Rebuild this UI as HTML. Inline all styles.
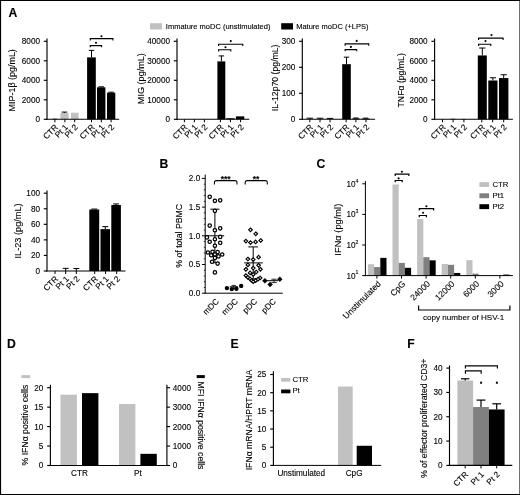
<!DOCTYPE html>
<html><head><meta charset="utf-8"><title>Figure</title>
<style>
html,body{margin:0;padding:0;background:#fff;}
body{width:520px;height:495px;overflow:hidden;}
svg{display:block;will-change:transform;opacity:0.999;font-family:'Liberation Sans', sans-serif;}
svg text{font-family:'Liberation Sans', sans-serif;fill:#000;stroke:#000;stroke-width:0.12px;}
</style></head>
<body>
<svg width="520" height="495" viewBox="0 0 520 495">
<rect x="150.00" y="23.20" width="12.00" height="6.30" fill="#c1c1c1"/>
<text x="165.80" y="29.20" font-size="7.5" text-anchor="start" font-weight="normal" >Immature moDC (unstimulated)</text>
<rect x="281.20" y="23.20" width="11.80" height="6.30" fill="#000"/>
<text x="296.20" y="29.20" font-size="7.5" text-anchor="start" font-weight="normal" >Mature moDC (+LPS)</text>
<text x="8.40" y="16.80" font-size="12.2" text-anchor="start" font-weight="bold" >A</text>
<text x="159.60" y="167.60" font-size="12.2" text-anchor="start" font-weight="bold" >B</text>
<text x="316.50" y="168.00" font-size="12.2" text-anchor="start" font-weight="bold" >C</text>
<text x="7.00" y="347.80" font-size="12.2" text-anchor="start" font-weight="bold" >D</text>
<text x="230.60" y="347.80" font-size="12.2" text-anchor="start" font-weight="bold" >E</text>
<text x="407.20" y="347.80" font-size="12.2" text-anchor="start" font-weight="bold" >F</text>
<rect x="52.60" y="118.72" width="4.60" height="0.58" fill="#000"/>
<rect x="60.40" y="112.96" width="8.20" height="6.34" fill="#c1c1c1"/>
<rect x="71.00" y="112.67" width="7.60" height="6.63" fill="#c1c1c1"/>
<rect x="87.10" y="57.39" width="8.70" height="61.91" fill="#000"/>
<rect x="97.00" y="87.32" width="8.40" height="31.98" fill="#000"/>
<rect x="107.00" y="92.68" width="8.30" height="26.62" fill="#000"/>
<line x1="64.50" y1="112.08" x2="64.50" y2="112.96" stroke="#000" stroke-width="1.0" />
<line x1="61.70" y1="112.08" x2="67.30" y2="112.08" stroke="#000" stroke-width="1.0" />
<line x1="91.50" y1="50.37" x2="91.50" y2="57.39" stroke="#000" stroke-width="1.0" />
<line x1="88.80" y1="50.37" x2="94.20" y2="50.37" stroke="#000" stroke-width="1.0" />
<line x1="101.20" y1="86.83" x2="101.20" y2="87.32" stroke="#000" stroke-width="1.0" />
<line x1="98.40" y1="86.83" x2="104.00" y2="86.83" stroke="#000" stroke-width="1.0" />
<line x1="111.10" y1="92.19" x2="111.10" y2="92.68" stroke="#000" stroke-width="1.0" />
<line x1="108.30" y1="92.19" x2="113.90" y2="92.19" stroke="#000" stroke-width="1.0" />
<line x1="47.00" y1="38.40" x2="47.00" y2="119.88" stroke="#000" stroke-width="1.15" />
<line x1="43.80" y1="119.30" x2="47.00" y2="119.30" stroke="#000" stroke-width="1.15" />
<text x="40.00" y="122.25" font-size="8.2" text-anchor="end" font-weight="normal" >0</text>
<line x1="43.80" y1="99.80" x2="47.00" y2="99.80" stroke="#000" stroke-width="1.15" />
<text x="40.00" y="102.75" font-size="8.2" text-anchor="end" font-weight="normal" >2000</text>
<line x1="43.80" y1="80.30" x2="47.00" y2="80.30" stroke="#000" stroke-width="1.15" />
<text x="40.00" y="83.25" font-size="8.2" text-anchor="end" font-weight="normal" >4000</text>
<line x1="43.80" y1="60.80" x2="47.00" y2="60.80" stroke="#000" stroke-width="1.15" />
<text x="40.00" y="63.75" font-size="8.2" text-anchor="end" font-weight="normal" >6000</text>
<line x1="43.80" y1="41.30" x2="47.00" y2="41.30" stroke="#000" stroke-width="1.15" />
<text x="40.00" y="44.25" font-size="8.2" text-anchor="end" font-weight="normal" >8000</text>
<line x1="46.50" y1="119.30" x2="119.20" y2="119.30" stroke="#000" stroke-width="1.1" />
<line x1="54.90" y1="119.30" x2="54.90" y2="122.30" stroke="#000" stroke-width="1.0" />
<line x1="64.90" y1="119.30" x2="64.90" y2="122.30" stroke="#000" stroke-width="1.0" />
<line x1="74.70" y1="119.30" x2="74.70" y2="122.30" stroke="#000" stroke-width="1.0" />
<line x1="91.50" y1="119.30" x2="91.50" y2="122.30" stroke="#000" stroke-width="1.0" />
<line x1="101.30" y1="119.30" x2="101.30" y2="122.30" stroke="#000" stroke-width="1.0" />
<line x1="111.10" y1="119.30" x2="111.10" y2="122.30" stroke="#000" stroke-width="1.0" />
<text x="58.60" y="127.80" font-size="8.3" text-anchor="end" font-weight="normal" transform="rotate(-45 58.60 127.80)" >CTR</text>
<text x="68.60" y="127.80" font-size="8.3" text-anchor="end" font-weight="normal" transform="rotate(-45 68.60 127.80)" >Pt 1</text>
<text x="78.40" y="127.80" font-size="8.3" text-anchor="end" font-weight="normal" transform="rotate(-45 78.40 127.80)" >Pt 2</text>
<text x="95.20" y="127.80" font-size="8.3" text-anchor="end" font-weight="normal" transform="rotate(-45 95.20 127.80)" >CTR</text>
<text x="105.00" y="127.80" font-size="8.3" text-anchor="end" font-weight="normal" transform="rotate(-45 105.00 127.80)" >Pt 1</text>
<text x="114.80" y="127.80" font-size="8.3" text-anchor="end" font-weight="normal" transform="rotate(-45 114.80 127.80)" >Pt 2</text>
<text x="15.20" y="80.30" font-size="8.95" text-anchor="middle" font-weight="normal" transform="rotate(-90 15.20 80.30)" >MIP-1β (pg/mL)</text>
<path d="M90.30 47.20 V45.60 H101.60 V47.20" fill="none" stroke="#000" stroke-width="1.1"/>
<circle cx="96.00" cy="42.80" r="1.05" fill="#000"/>
<path d="M90.30 40.55 V38.65 H112.90 V40.55" fill="none" stroke="#000" stroke-width="1.1"/>
<circle cx="101.50" cy="36.20" r="1.05" fill="#000"/>
<rect x="217.40" y="61.38" width="7.90" height="57.91" fill="#000"/>
<rect x="226.20" y="118.23" width="8.40" height="1.07" fill="#000"/>
<rect x="235.90" y="116.38" width="8.40" height="2.92" fill="#000"/>
<line x1="221.40" y1="55.92" x2="221.40" y2="61.38" stroke="#000" stroke-width="1.0" />
<line x1="218.70" y1="55.92" x2="224.10" y2="55.92" stroke="#000" stroke-width="1.0" />
<line x1="177.00" y1="38.40" x2="177.00" y2="119.88" stroke="#000" stroke-width="1.15" />
<line x1="173.80" y1="119.30" x2="177.00" y2="119.30" stroke="#000" stroke-width="1.15" />
<text x="170.00" y="122.25" font-size="8.2" text-anchor="end" font-weight="normal" >0</text>
<line x1="173.80" y1="99.80" x2="177.00" y2="99.80" stroke="#000" stroke-width="1.15" />
<text x="170.00" y="102.75" font-size="8.2" text-anchor="end" font-weight="normal" >10000</text>
<line x1="173.80" y1="80.30" x2="177.00" y2="80.30" stroke="#000" stroke-width="1.15" />
<text x="170.00" y="83.25" font-size="8.2" text-anchor="end" font-weight="normal" >20000</text>
<line x1="173.80" y1="60.80" x2="177.00" y2="60.80" stroke="#000" stroke-width="1.15" />
<text x="170.00" y="63.75" font-size="8.2" text-anchor="end" font-weight="normal" >30000</text>
<line x1="173.80" y1="41.30" x2="177.00" y2="41.30" stroke="#000" stroke-width="1.15" />
<text x="170.00" y="44.25" font-size="8.2" text-anchor="end" font-weight="normal" >40000</text>
<line x1="176.50" y1="119.30" x2="249.30" y2="119.30" stroke="#000" stroke-width="1.1" />
<line x1="184.40" y1="119.30" x2="184.40" y2="122.30" stroke="#000" stroke-width="1.0" />
<line x1="194.40" y1="119.30" x2="194.40" y2="122.30" stroke="#000" stroke-width="1.0" />
<line x1="204.40" y1="119.30" x2="204.40" y2="122.30" stroke="#000" stroke-width="1.0" />
<line x1="220.40" y1="119.30" x2="220.40" y2="122.30" stroke="#000" stroke-width="1.0" />
<line x1="230.40" y1="119.30" x2="230.40" y2="122.30" stroke="#000" stroke-width="1.0" />
<line x1="240.60" y1="119.30" x2="240.60" y2="122.30" stroke="#000" stroke-width="1.0" />
<text x="188.10" y="127.80" font-size="8.3" text-anchor="end" font-weight="normal" transform="rotate(-45 188.10 127.80)" >CTR</text>
<text x="198.10" y="127.80" font-size="8.3" text-anchor="end" font-weight="normal" transform="rotate(-45 198.10 127.80)" >Pt 1</text>
<text x="208.10" y="127.80" font-size="8.3" text-anchor="end" font-weight="normal" transform="rotate(-45 208.10 127.80)" >Pt 2</text>
<text x="224.10" y="127.80" font-size="8.3" text-anchor="end" font-weight="normal" transform="rotate(-45 224.10 127.80)" >CTR</text>
<text x="234.10" y="127.80" font-size="8.3" text-anchor="end" font-weight="normal" transform="rotate(-45 234.10 127.80)" >Pt 1</text>
<text x="244.30" y="127.80" font-size="8.3" text-anchor="end" font-weight="normal" transform="rotate(-45 244.30 127.80)" >Pt 2</text>
<text x="144.50" y="78.60" font-size="9.1" text-anchor="middle" font-weight="normal" transform="rotate(-90 144.50 78.60)" >MIG (pg/mL)</text>
<path d="M218.60 51.40 V49.80 H230.80 V51.40" fill="none" stroke="#000" stroke-width="1.1"/>
<circle cx="225.50" cy="47.30" r="1.05" fill="#000"/>
<path d="M218.60 46.10 V44.20 H242.80 V46.10" fill="none" stroke="#000" stroke-width="1.1"/>
<circle cx="230.80" cy="41.10" r="1.05" fill="#000"/>
<rect x="342.20" y="64.18" width="8.60" height="55.12" fill="#000"/>
<rect x="352.30" y="118.39" width="7.10" height="0.91" fill="#000"/>
<rect x="361.80" y="118.52" width="7.80" height="0.78" fill="#000"/>
<line x1="346.50" y1="57.16" x2="346.50" y2="64.18" stroke="#000" stroke-width="1.0" />
<line x1="343.80" y1="57.16" x2="349.20" y2="57.16" stroke="#000" stroke-width="1.0" />
<line x1="309.80" y1="118.21" x2="309.80" y2="119.30" stroke="#000" stroke-width="1.0" />
<line x1="306.55" y1="118.21" x2="313.05" y2="118.21" stroke="#000" stroke-width="1.0" />
<line x1="320.00" y1="118.21" x2="320.00" y2="119.30" stroke="#000" stroke-width="1.0" />
<line x1="316.75" y1="118.21" x2="323.25" y2="118.21" stroke="#000" stroke-width="1.0" />
<line x1="330.00" y1="118.42" x2="330.00" y2="119.30" stroke="#000" stroke-width="1.0" />
<line x1="326.75" y1="118.42" x2="333.25" y2="118.42" stroke="#000" stroke-width="1.0" />
<line x1="355.90" y1="118.00" x2="355.90" y2="118.39" stroke="#000" stroke-width="1.0" />
<line x1="353.40" y1="118.00" x2="358.40" y2="118.00" stroke="#000" stroke-width="1.0" />
<line x1="365.70" y1="118.13" x2="365.70" y2="118.52" stroke="#000" stroke-width="1.0" />
<line x1="363.20" y1="118.13" x2="368.20" y2="118.13" stroke="#000" stroke-width="1.0" />
<line x1="302.30" y1="38.40" x2="302.30" y2="119.88" stroke="#000" stroke-width="1.15" />
<line x1="299.10" y1="119.30" x2="302.30" y2="119.30" stroke="#000" stroke-width="1.15" />
<text x="295.30" y="122.25" font-size="8.2" text-anchor="end" font-weight="normal" >0</text>
<line x1="299.10" y1="93.30" x2="302.30" y2="93.30" stroke="#000" stroke-width="1.15" />
<text x="295.30" y="96.25" font-size="8.2" text-anchor="end" font-weight="normal" >100</text>
<line x1="299.10" y1="67.30" x2="302.30" y2="67.30" stroke="#000" stroke-width="1.15" />
<text x="295.30" y="70.25" font-size="8.2" text-anchor="end" font-weight="normal" >200</text>
<line x1="299.10" y1="41.30" x2="302.30" y2="41.30" stroke="#000" stroke-width="1.15" />
<text x="295.30" y="44.25" font-size="8.2" text-anchor="end" font-weight="normal" >300</text>
<line x1="301.80" y1="119.30" x2="375.10" y2="119.30" stroke="#000" stroke-width="1.1" />
<line x1="309.80" y1="119.30" x2="309.80" y2="122.30" stroke="#000" stroke-width="1.0" />
<line x1="320.00" y1="119.30" x2="320.00" y2="122.30" stroke="#000" stroke-width="1.0" />
<line x1="330.00" y1="119.30" x2="330.00" y2="122.30" stroke="#000" stroke-width="1.0" />
<line x1="346.10" y1="119.30" x2="346.10" y2="122.30" stroke="#000" stroke-width="1.0" />
<line x1="355.90" y1="119.30" x2="355.90" y2="122.30" stroke="#000" stroke-width="1.0" />
<line x1="366.00" y1="119.30" x2="366.00" y2="122.30" stroke="#000" stroke-width="1.0" />
<text x="313.50" y="127.80" font-size="8.3" text-anchor="end" font-weight="normal" transform="rotate(-45 313.50 127.80)" >CTR</text>
<text x="323.70" y="127.80" font-size="8.3" text-anchor="end" font-weight="normal" transform="rotate(-45 323.70 127.80)" >Pt 1</text>
<text x="333.70" y="127.80" font-size="8.3" text-anchor="end" font-weight="normal" transform="rotate(-45 333.70 127.80)" >Pt 2</text>
<text x="349.80" y="127.80" font-size="8.3" text-anchor="end" font-weight="normal" transform="rotate(-45 349.80 127.80)" >CTR</text>
<text x="359.60" y="127.80" font-size="8.3" text-anchor="end" font-weight="normal" transform="rotate(-45 359.60 127.80)" >Pt 1</text>
<text x="369.70" y="127.80" font-size="8.3" text-anchor="end" font-weight="normal" transform="rotate(-45 369.70 127.80)" >Pt 2</text>
<text x="277.80" y="77.80" font-size="8.7" text-anchor="middle" font-weight="normal" transform="rotate(-90 277.80 77.80)" >IL-12p70 (pg/mL)</text>
<path d="M345.10 51.20 V49.60 H356.70 V51.20" fill="none" stroke="#000" stroke-width="1.1"/>
<circle cx="350.90" cy="46.90" r="1.05" fill="#000"/>
<path d="M345.10 45.80 V43.90 H368.70 V45.80" fill="none" stroke="#000" stroke-width="1.1"/>
<circle cx="356.70" cy="40.90" r="1.05" fill="#000"/>
<rect x="450.50" y="118.81" width="5.00" height="0.49" fill="#000"/>
<rect x="461.50" y="118.96" width="4.50" height="0.34" fill="#000"/>
<rect x="477.80" y="55.44" width="9.00" height="63.86" fill="#000"/>
<rect x="488.30" y="80.50" width="9.20" height="38.80" fill="#000"/>
<rect x="499.00" y="78.06" width="9.40" height="41.24" fill="#000"/>
<line x1="482.30" y1="48.03" x2="482.30" y2="55.44" stroke="#000" stroke-width="1.0" />
<line x1="479.20" y1="48.03" x2="485.40" y2="48.03" stroke="#000" stroke-width="1.0" />
<line x1="492.90" y1="77.77" x2="492.90" y2="80.50" stroke="#000" stroke-width="1.0" />
<line x1="489.80" y1="77.77" x2="496.00" y2="77.77" stroke="#000" stroke-width="1.0" />
<line x1="503.70" y1="74.74" x2="503.70" y2="78.06" stroke="#000" stroke-width="1.0" />
<line x1="500.60" y1="74.74" x2="506.80" y2="74.74" stroke="#000" stroke-width="1.0" />
<line x1="434.60" y1="38.40" x2="434.60" y2="119.88" stroke="#000" stroke-width="1.15" />
<line x1="431.40" y1="119.30" x2="434.60" y2="119.30" stroke="#000" stroke-width="1.15" />
<text x="427.60" y="122.25" font-size="8.2" text-anchor="end" font-weight="normal" >0</text>
<line x1="431.40" y1="99.80" x2="434.60" y2="99.80" stroke="#000" stroke-width="1.15" />
<text x="427.60" y="102.75" font-size="8.2" text-anchor="end" font-weight="normal" >2000</text>
<line x1="431.40" y1="80.30" x2="434.60" y2="80.30" stroke="#000" stroke-width="1.15" />
<text x="427.60" y="83.25" font-size="8.2" text-anchor="end" font-weight="normal" >4000</text>
<line x1="431.40" y1="60.80" x2="434.60" y2="60.80" stroke="#000" stroke-width="1.15" />
<text x="427.60" y="63.75" font-size="8.2" text-anchor="end" font-weight="normal" >6000</text>
<line x1="431.40" y1="41.30" x2="434.60" y2="41.30" stroke="#000" stroke-width="1.15" />
<text x="427.60" y="44.25" font-size="8.2" text-anchor="end" font-weight="normal" >8000</text>
<line x1="434.10" y1="119.30" x2="512.90" y2="119.30" stroke="#000" stroke-width="1.1" />
<line x1="442.50" y1="119.30" x2="442.50" y2="122.30" stroke="#000" stroke-width="1.0" />
<line x1="453.10" y1="119.30" x2="453.10" y2="122.30" stroke="#000" stroke-width="1.0" />
<line x1="463.90" y1="119.30" x2="463.90" y2="122.30" stroke="#000" stroke-width="1.0" />
<line x1="481.80" y1="119.30" x2="481.80" y2="122.30" stroke="#000" stroke-width="1.0" />
<line x1="492.70" y1="119.30" x2="492.70" y2="122.30" stroke="#000" stroke-width="1.0" />
<line x1="503.70" y1="119.30" x2="503.70" y2="122.30" stroke="#000" stroke-width="1.0" />
<text x="446.20" y="127.80" font-size="8.3" text-anchor="end" font-weight="normal" transform="rotate(-45 446.20 127.80)" >CTR</text>
<text x="456.80" y="127.80" font-size="8.3" text-anchor="end" font-weight="normal" transform="rotate(-45 456.80 127.80)" >Pt 1</text>
<text x="467.60" y="127.80" font-size="8.3" text-anchor="end" font-weight="normal" transform="rotate(-45 467.60 127.80)" >Pt 2</text>
<text x="485.50" y="127.80" font-size="8.3" text-anchor="end" font-weight="normal" transform="rotate(-45 485.50 127.80)" >CTR</text>
<text x="496.40" y="127.80" font-size="8.3" text-anchor="end" font-weight="normal" transform="rotate(-45 496.40 127.80)" >Pt 1</text>
<text x="507.40" y="127.80" font-size="8.3" text-anchor="end" font-weight="normal" transform="rotate(-45 507.40 127.80)" >Pt 2</text>
<text x="404.00" y="80.30" font-size="8.7" text-anchor="middle" font-weight="normal" transform="rotate(-90 404.00 80.30)" >TNFα (pg/mL)</text>
<path d="M478.60 45.90 V44.30 H490.80 V45.90" fill="none" stroke="#000" stroke-width="1.1"/>
<circle cx="485.50" cy="41.10" r="1.05" fill="#000"/>
<path d="M478.60 40.00 V38.10 H503.10 V40.00" fill="none" stroke="#000" stroke-width="1.1"/>
<circle cx="491.50" cy="35.10" r="1.05" fill="#000"/>
<rect x="89.30" y="209.54" width="9.90" height="61.46" fill="#000"/>
<rect x="100.50" y="229.14" width="9.50" height="41.86" fill="#000"/>
<rect x="111.30" y="205.03" width="9.60" height="65.97" fill="#000"/>
<line x1="65.70" y1="268.35" x2="65.70" y2="271.00" stroke="#000" stroke-width="1.0" />
<line x1="62.70" y1="268.35" x2="68.70" y2="268.35" stroke="#000" stroke-width="1.0" />
<line x1="76.30" y1="268.51" x2="76.30" y2="271.00" stroke="#000" stroke-width="1.0" />
<line x1="73.30" y1="268.51" x2="79.30" y2="268.51" stroke="#000" stroke-width="1.0" />
<line x1="94.30" y1="209.07" x2="94.30" y2="209.54" stroke="#000" stroke-width="1.0" />
<line x1="91.30" y1="209.07" x2="97.30" y2="209.07" stroke="#000" stroke-width="1.0" />
<line x1="105.30" y1="226.65" x2="105.30" y2="229.14" stroke="#000" stroke-width="1.0" />
<line x1="102.30" y1="226.65" x2="108.30" y2="226.65" stroke="#000" stroke-width="1.0" />
<line x1="116.10" y1="203.94" x2="116.10" y2="205.03" stroke="#000" stroke-width="1.0" />
<line x1="113.10" y1="203.94" x2="119.10" y2="203.94" stroke="#000" stroke-width="1.0" />
<line x1="47.00" y1="190.50" x2="47.00" y2="271.57" stroke="#000" stroke-width="1.15" />
<line x1="43.80" y1="271.00" x2="47.00" y2="271.00" stroke="#000" stroke-width="1.15" />
<text x="40.00" y="273.95" font-size="8.2" text-anchor="end" font-weight="normal" >0</text>
<line x1="43.80" y1="255.44" x2="47.00" y2="255.44" stroke="#000" stroke-width="1.15" />
<text x="40.00" y="258.39" font-size="8.2" text-anchor="end" font-weight="normal" >20</text>
<line x1="43.80" y1="239.88" x2="47.00" y2="239.88" stroke="#000" stroke-width="1.15" />
<text x="40.00" y="242.83" font-size="8.2" text-anchor="end" font-weight="normal" >40</text>
<line x1="43.80" y1="224.32" x2="47.00" y2="224.32" stroke="#000" stroke-width="1.15" />
<text x="40.00" y="227.27" font-size="8.2" text-anchor="end" font-weight="normal" >60</text>
<line x1="43.80" y1="208.76" x2="47.00" y2="208.76" stroke="#000" stroke-width="1.15" />
<text x="40.00" y="211.71" font-size="8.2" text-anchor="end" font-weight="normal" >80</text>
<line x1="43.80" y1="193.20" x2="47.00" y2="193.20" stroke="#000" stroke-width="1.15" />
<text x="40.00" y="196.15" font-size="8.2" text-anchor="end" font-weight="normal" >100</text>
<line x1="46.50" y1="271.00" x2="125.50" y2="271.00" stroke="#000" stroke-width="1.1" />
<line x1="55.00" y1="271.00" x2="55.00" y2="274.00" stroke="#000" stroke-width="1.0" />
<line x1="65.70" y1="271.00" x2="65.70" y2="274.00" stroke="#000" stroke-width="1.0" />
<line x1="76.30" y1="271.00" x2="76.30" y2="274.00" stroke="#000" stroke-width="1.0" />
<line x1="94.70" y1="271.00" x2="94.70" y2="274.00" stroke="#000" stroke-width="1.0" />
<line x1="105.60" y1="271.00" x2="105.60" y2="274.00" stroke="#000" stroke-width="1.0" />
<line x1="116.70" y1="271.00" x2="116.70" y2="274.00" stroke="#000" stroke-width="1.0" />
<text x="58.70" y="279.50" font-size="8.3" text-anchor="end" font-weight="normal" transform="rotate(-45 58.70 279.50)" >CTR</text>
<text x="69.40" y="279.50" font-size="8.3" text-anchor="end" font-weight="normal" transform="rotate(-45 69.40 279.50)" >Pt 1</text>
<text x="80.00" y="279.50" font-size="8.3" text-anchor="end" font-weight="normal" transform="rotate(-45 80.00 279.50)" >Pt 2</text>
<text x="98.40" y="279.50" font-size="8.3" text-anchor="end" font-weight="normal" transform="rotate(-45 98.40 279.50)" >CTR</text>
<text x="109.30" y="279.50" font-size="8.3" text-anchor="end" font-weight="normal" transform="rotate(-45 109.30 279.50)" >Pt 1</text>
<text x="120.40" y="279.50" font-size="8.3" text-anchor="end" font-weight="normal" transform="rotate(-45 120.40 279.50)" >Pt 2</text>
<text x="21.30" y="230.90" font-size="9.2" text-anchor="middle" font-weight="normal" transform="rotate(-90 21.30 230.90)" >IL-23 (pg/mL)</text>
<line x1="205.20" y1="174.50" x2="205.20" y2="293.70" stroke="#000" stroke-width="1.0" />
<line x1="202.00" y1="293.20" x2="205.20" y2="293.20" stroke="#000" stroke-width="1.0" />
<text x="200.20" y="296.15" font-size="8.2" text-anchor="end" font-weight="normal" >0.0</text>
<line x1="203.80" y1="287.46" x2="205.20" y2="287.46" stroke="#000" stroke-width="0.8" />
<line x1="203.80" y1="281.72" x2="205.20" y2="281.72" stroke="#000" stroke-width="0.8" />
<line x1="203.80" y1="275.98" x2="205.20" y2="275.98" stroke="#000" stroke-width="0.8" />
<line x1="203.80" y1="270.24" x2="205.20" y2="270.24" stroke="#000" stroke-width="0.8" />
<line x1="202.00" y1="264.50" x2="205.20" y2="264.50" stroke="#000" stroke-width="1.0" />
<text x="200.20" y="267.45" font-size="8.2" text-anchor="end" font-weight="normal" >0.5</text>
<line x1="203.80" y1="258.76" x2="205.20" y2="258.76" stroke="#000" stroke-width="0.8" />
<line x1="203.80" y1="253.02" x2="205.20" y2="253.02" stroke="#000" stroke-width="0.8" />
<line x1="203.80" y1="247.28" x2="205.20" y2="247.28" stroke="#000" stroke-width="0.8" />
<line x1="203.80" y1="241.54" x2="205.20" y2="241.54" stroke="#000" stroke-width="0.8" />
<line x1="202.00" y1="235.80" x2="205.20" y2="235.80" stroke="#000" stroke-width="1.0" />
<text x="200.20" y="238.75" font-size="8.2" text-anchor="end" font-weight="normal" >1.0</text>
<line x1="203.80" y1="230.06" x2="205.20" y2="230.06" stroke="#000" stroke-width="0.8" />
<line x1="203.80" y1="224.32" x2="205.20" y2="224.32" stroke="#000" stroke-width="0.8" />
<line x1="203.80" y1="218.58" x2="205.20" y2="218.58" stroke="#000" stroke-width="0.8" />
<line x1="203.80" y1="212.84" x2="205.20" y2="212.84" stroke="#000" stroke-width="0.8" />
<line x1="202.00" y1="207.10" x2="205.20" y2="207.10" stroke="#000" stroke-width="1.0" />
<text x="200.20" y="210.05" font-size="8.2" text-anchor="end" font-weight="normal" >1.5</text>
<line x1="203.80" y1="201.36" x2="205.20" y2="201.36" stroke="#000" stroke-width="0.8" />
<line x1="203.80" y1="195.62" x2="205.20" y2="195.62" stroke="#000" stroke-width="0.8" />
<line x1="203.80" y1="189.88" x2="205.20" y2="189.88" stroke="#000" stroke-width="0.8" />
<line x1="203.80" y1="184.14" x2="205.20" y2="184.14" stroke="#000" stroke-width="0.8" />
<line x1="202.00" y1="178.40" x2="205.20" y2="178.40" stroke="#000" stroke-width="1.0" />
<text x="200.20" y="181.35" font-size="8.2" text-anchor="end" font-weight="normal" >2.0</text>
<line x1="204.70" y1="293.20" x2="282.80" y2="293.20" stroke="#000" stroke-width="1.0" />
<text x="181.70" y="235.80" font-size="8.7" text-anchor="middle" font-weight="normal" transform="rotate(-90 181.70 235.80)" >% of total PBMC</text>
<text x="219.60" y="302.00" font-size="8.3" text-anchor="end" font-weight="normal" transform="rotate(-45 219.60 302.00)" >mDC</text>
<text x="238.40" y="302.00" font-size="8.3" text-anchor="end" font-weight="normal" transform="rotate(-45 238.40 302.00)" >mDC</text>
<text x="257.80" y="302.00" font-size="8.3" text-anchor="end" font-weight="normal" transform="rotate(-45 257.80 302.00)" >pDC</text>
<text x="276.40" y="302.00" font-size="8.3" text-anchor="end" font-weight="normal" transform="rotate(-45 276.40 302.00)" >pDC</text>
<line x1="214.90" y1="209.20" x2="214.90" y2="262.70" stroke="#000" stroke-width="1.0" />
<line x1="210.30" y1="209.20" x2="219.50" y2="209.20" stroke="#000" stroke-width="1.0" />
<line x1="210.30" y1="262.70" x2="219.50" y2="262.70" stroke="#000" stroke-width="1.0" />
<line x1="205.50" y1="235.80" x2="224.20" y2="235.80" stroke="#000" stroke-width="1.0" />
<circle cx="209.7" cy="196.8" r="1.7" fill="#fff" stroke="#000" stroke-width="1.25"/>
<circle cx="214.9" cy="200.8" r="1.7" fill="#fff" stroke="#000" stroke-width="1.25"/>
<circle cx="220.2" cy="200.3" r="1.7" fill="#fff" stroke="#000" stroke-width="1.25"/>
<circle cx="214.9" cy="210.8" r="1.7" fill="#fff" stroke="#000" stroke-width="1.25"/>
<circle cx="209.7" cy="225.6" r="1.7" fill="#fff" stroke="#000" stroke-width="1.25"/>
<circle cx="220.2" cy="228.3" r="1.7" fill="#fff" stroke="#000" stroke-width="1.25"/>
<circle cx="214.9" cy="230.2" r="1.7" fill="#fff" stroke="#000" stroke-width="1.25"/>
<circle cx="206.9" cy="237.4" r="1.7" fill="#fff" stroke="#000" stroke-width="1.25"/>
<circle cx="220.2" cy="236.9" r="1.7" fill="#fff" stroke="#000" stroke-width="1.25"/>
<circle cx="214.9" cy="239.2" r="1.7" fill="#fff" stroke="#000" stroke-width="1.25"/>
<circle cx="209.7" cy="241.7" r="1.7" fill="#fff" stroke="#000" stroke-width="1.25"/>
<circle cx="220.2" cy="242.8" r="1.7" fill="#fff" stroke="#000" stroke-width="1.25"/>
<circle cx="214.9" cy="245.7" r="1.7" fill="#fff" stroke="#000" stroke-width="1.25"/>
<circle cx="207.9" cy="252.5" r="1.7" fill="#fff" stroke="#000" stroke-width="1.25"/>
<circle cx="212.5" cy="251.8" r="1.7" fill="#fff" stroke="#000" stroke-width="1.25"/>
<circle cx="217.6" cy="252.1" r="1.7" fill="#fff" stroke="#000" stroke-width="1.25"/>
<circle cx="222.2" cy="254.5" r="1.7" fill="#fff" stroke="#000" stroke-width="1.25"/>
<circle cx="211.2" cy="255.2" r="1.7" fill="#fff" stroke="#000" stroke-width="1.25"/>
<circle cx="214.9" cy="254.5" r="1.7" fill="#fff" stroke="#000" stroke-width="1.25"/>
<circle cx="218.5" cy="256.4" r="1.7" fill="#fff" stroke="#000" stroke-width="1.25"/>
<circle cx="214.9" cy="257.9" r="1.7" fill="#fff" stroke="#000" stroke-width="1.25"/>
<circle cx="212.1" cy="261.8" r="1.7" fill="#fff" stroke="#000" stroke-width="1.25"/>
<circle cx="217.6" cy="263.6" r="1.7" fill="#fff" stroke="#000" stroke-width="1.25"/>
<circle cx="214.9" cy="272.4" r="1.7" fill="#fff" stroke="#000" stroke-width="1.25"/>
<line x1="229.70" y1="286.80" x2="237.80" y2="286.80" stroke="#000" stroke-width="1.0" />
<line x1="231.50" y1="285.40" x2="236.00" y2="285.40" stroke="#000" stroke-width="0.8" />
<line x1="231.50" y1="288.40" x2="236.00" y2="288.40" stroke="#000" stroke-width="0.8" />
<line x1="233.80" y1="285.40" x2="233.80" y2="288.40" stroke="#000" stroke-width="0.8" />
<circle cx="226.9" cy="288.1" r="2.2" fill="#000"/>
<circle cx="231.8" cy="289.1" r="2.2" fill="#000"/>
<circle cx="236.4" cy="288.8" r="2.2" fill="#000"/>
<circle cx="241.2" cy="285.9" r="2.2" fill="#000"/>
<line x1="253.20" y1="246.90" x2="253.20" y2="278.80" stroke="#000" stroke-width="1.0" />
<line x1="248.30" y1="246.90" x2="258.10" y2="246.90" stroke="#000" stroke-width="1.0" />
<line x1="248.30" y1="278.80" x2="258.10" y2="278.80" stroke="#000" stroke-width="1.0" />
<line x1="244.10" y1="262.90" x2="262.80" y2="262.90" stroke="#000" stroke-width="1.0" />
<path d="M250.50 228.00 L252.30 229.80 L250.50 231.60 L248.70 229.80 Z" fill="#fff" stroke="#000" stroke-width="1.15"/>
<path d="M255.80 232.00 L257.60 233.80 L255.80 235.60 L254.00 233.80 Z" fill="#fff" stroke="#000" stroke-width="1.15"/>
<path d="M245.90 239.30 L247.70 241.10 L245.90 242.90 L244.10 241.10 Z" fill="#fff" stroke="#000" stroke-width="1.15"/>
<path d="M250.50 240.80 L252.30 242.60 L250.50 244.40 L248.70 242.60 Z" fill="#fff" stroke="#000" stroke-width="1.15"/>
<path d="M255.60 240.10 L257.40 241.90 L255.60 243.70 L253.80 241.90 Z" fill="#fff" stroke="#000" stroke-width="1.15"/>
<path d="M260.70 238.70 L262.50 240.50 L260.70 242.30 L258.90 240.50 Z" fill="#fff" stroke="#000" stroke-width="1.15"/>
<path d="M258.60 255.40 L260.40 257.20 L258.60 259.00 L256.80 257.20 Z" fill="#fff" stroke="#000" stroke-width="1.15"/>
<path d="M247.90 257.20 L249.70 259.00 L247.90 260.80 L246.10 259.00 Z" fill="#fff" stroke="#000" stroke-width="1.15"/>
<path d="M253.20 257.80 L255.00 259.60 L253.20 261.40 L251.40 259.60 Z" fill="#fff" stroke="#000" stroke-width="1.15"/>
<path d="M247.90 263.10 L249.70 264.90 L247.90 266.70 L246.10 264.90 Z" fill="#fff" stroke="#000" stroke-width="1.15"/>
<path d="M258.60 263.50 L260.40 265.30 L258.60 267.10 L256.80 265.30 Z" fill="#fff" stroke="#000" stroke-width="1.15"/>
<path d="M253.20 266.30 L255.00 268.10 L253.20 269.90 L251.40 268.10 Z" fill="#fff" stroke="#000" stroke-width="1.15"/>
<path d="M245.90 267.50 L247.70 269.30 L245.90 271.10 L244.10 269.30 Z" fill="#fff" stroke="#000" stroke-width="1.15"/>
<path d="M260.40 267.50 L262.20 269.30 L260.40 271.10 L258.60 269.30 Z" fill="#fff" stroke="#000" stroke-width="1.15"/>
<path d="M250.10 271.10 L251.90 272.90 L250.10 274.70 L248.30 272.90 Z" fill="#fff" stroke="#000" stroke-width="1.15"/>
<path d="M256.20 270.20 L258.00 272.00 L256.20 273.80 L254.40 272.00 Z" fill="#fff" stroke="#000" stroke-width="1.15"/>
<path d="M253.20 272.60 L255.00 274.40 L253.20 276.20 L251.40 274.40 Z" fill="#fff" stroke="#000" stroke-width="1.15"/>
<path d="M245.90 273.80 L247.70 275.60 L245.90 277.40 L244.10 275.60 Z" fill="#fff" stroke="#000" stroke-width="1.15"/>
<path d="M247.90 275.60 L249.70 277.40 L247.90 279.20 L246.10 277.40 Z" fill="#fff" stroke="#000" stroke-width="1.15"/>
<path d="M260.10 276.20 L261.90 278.00 L260.10 279.80 L258.30 278.00 Z" fill="#fff" stroke="#000" stroke-width="1.15"/>
<path d="M250.10 277.10 L251.90 278.90 L250.10 280.70 L248.30 278.90 Z" fill="#fff" stroke="#000" stroke-width="1.15"/>
<path d="M258.00 277.40 L259.80 279.20 L258.00 281.00 L256.20 279.20 Z" fill="#fff" stroke="#000" stroke-width="1.15"/>
<path d="M251.60 278.70 L253.40 280.50 L251.60 282.30 L249.80 280.50 Z" fill="#fff" stroke="#000" stroke-width="1.15"/>
<path d="M255.60 278.90 L257.40 280.70 L255.60 282.50 L253.80 280.70 Z" fill="#fff" stroke="#000" stroke-width="1.15"/>
<path d="M253.20 279.90 L255.00 281.70 L253.20 283.50 L251.40 281.70 Z" fill="#fff" stroke="#000" stroke-width="1.15"/>
<line x1="266.50" y1="280.70" x2="278.00" y2="280.70" stroke="#000" stroke-width="1.0" />
<line x1="271.30" y1="279.20" x2="276.80" y2="279.20" stroke="#000" stroke-width="0.8" />
<line x1="271.30" y1="282.60" x2="276.80" y2="282.60" stroke="#000" stroke-width="0.8" />
<line x1="274.00" y1="279.20" x2="274.00" y2="282.60" stroke="#000" stroke-width="0.8" />
<path d="M264.90 278.00 L267.60 280.70 L264.90 283.40 L262.20 280.70 Z" fill="#000"/>
<path d="M270.10 281.80 L272.80 284.50 L270.10 287.20 L267.40 284.50 Z" fill="#000"/>
<path d="M279.80 276.50 L282.50 279.20 L279.80 281.90 L277.10 279.20 Z" fill="#000"/>
<path d="M214.40 184.60 V182.60 Q214.40 180.60 216.40 180.60 H235.00 Q237.00 180.60 237.00 182.60 V184.60" fill="none" stroke="#000" stroke-width="1.05"/>
<path d="M245.20 184.60 V182.60 Q245.20 180.60 247.20 180.60 H265.30 Q267.30 180.60 267.30 182.60 V184.60" fill="none" stroke="#000" stroke-width="1.05"/>
<text x="225.60" y="181.60" font-size="8.5" text-anchor="middle" font-weight="bold" >***</text>
<text x="256.10" y="181.60" font-size="8.5" text-anchor="middle" font-weight="bold" >**</text>
<rect x="367.90" y="264.19" width="6.20" height="11.41" fill="#c1c1c1"/>
<rect x="374.10" y="267.07" width="6.20" height="8.53" fill="#808080"/>
<rect x="380.30" y="257.86" width="6.20" height="17.74" fill="#000"/>
<rect x="392.50" y="184.48" width="6.20" height="91.12" fill="#c1c1c1"/>
<rect x="398.70" y="262.90" width="6.20" height="12.70" fill="#808080"/>
<rect x="404.90" y="267.79" width="6.20" height="7.81" fill="#000"/>
<rect x="417.10" y="219.14" width="6.20" height="56.46" fill="#c1c1c1"/>
<rect x="423.30" y="257.18" width="6.20" height="18.42" fill="#808080"/>
<rect x="429.50" y="260.35" width="6.20" height="15.25" fill="#000"/>
<rect x="441.70" y="263.97" width="6.20" height="11.63" fill="#c1c1c1"/>
<rect x="447.90" y="264.82" width="6.20" height="10.78" fill="#808080"/>
<rect x="454.10" y="272.96" width="6.20" height="2.64" fill="#000"/>
<rect x="466.30" y="260.14" width="6.20" height="15.46" fill="#c1c1c1"/>
<rect x="472.50" y="273.63" width="6.20" height="1.97" fill="#808080"/>
<rect x="503.30" y="274.58" width="6.20" height="1.02" fill="#000"/>
<line x1="365.40" y1="181.00" x2="365.40" y2="276.10" stroke="#000" stroke-width="1.0" />
<line x1="362.20" y1="275.60" x2="365.40" y2="275.60" stroke="#000" stroke-width="1.0" />
<text x="355.60" y="278.55" font-size="8.2" text-anchor="end">10</text>
<text x="355.50" y="274.40" font-size="5.2" text-anchor="start">1</text>
<line x1="362.20" y1="245.00" x2="365.40" y2="245.00" stroke="#000" stroke-width="1.0" />
<text x="355.60" y="247.95" font-size="8.2" text-anchor="end">10</text>
<text x="355.50" y="243.80" font-size="5.2" text-anchor="start">2</text>
<line x1="362.20" y1="214.40" x2="365.40" y2="214.40" stroke="#000" stroke-width="1.0" />
<text x="355.60" y="217.35" font-size="8.2" text-anchor="end">10</text>
<text x="355.50" y="213.20" font-size="5.2" text-anchor="start">3</text>
<line x1="362.20" y1="183.80" x2="365.40" y2="183.80" stroke="#000" stroke-width="1.0" />
<text x="355.60" y="186.75" font-size="8.2" text-anchor="end">10</text>
<text x="355.50" y="182.60" font-size="5.2" text-anchor="start">4</text>
<line x1="364.90" y1="275.60" x2="512.90" y2="275.60" stroke="#000" stroke-width="1.0" />
<line x1="376.90" y1="275.60" x2="376.90" y2="278.60" stroke="#000" stroke-width="1.0" />
<text x="381.40" y="284.40" font-size="8.5" text-anchor="end" font-weight="normal" transform="rotate(-45 381.40 284.40)" >Unstimulated</text>
<line x1="401.50" y1="275.60" x2="401.50" y2="278.60" stroke="#000" stroke-width="1.0" />
<text x="406.00" y="284.40" font-size="8.5" text-anchor="end" font-weight="normal" transform="rotate(-45 406.00 284.40)" >CpG</text>
<line x1="426.10" y1="275.60" x2="426.10" y2="278.60" stroke="#000" stroke-width="1.0" />
<text x="430.60" y="284.40" font-size="8.5" text-anchor="end" font-weight="normal" transform="rotate(-45 430.60 284.40)" >24000</text>
<line x1="450.70" y1="275.60" x2="450.70" y2="278.60" stroke="#000" stroke-width="1.0" />
<text x="455.20" y="284.40" font-size="8.5" text-anchor="end" font-weight="normal" transform="rotate(-45 455.20 284.40)" >12000</text>
<line x1="475.30" y1="275.60" x2="475.30" y2="278.60" stroke="#000" stroke-width="1.0" />
<text x="479.80" y="284.40" font-size="8.5" text-anchor="end" font-weight="normal" transform="rotate(-45 479.80 284.40)" >6000</text>
<line x1="499.90" y1="275.60" x2="499.90" y2="278.60" stroke="#000" stroke-width="1.0" />
<text x="504.40" y="284.40" font-size="8.5" text-anchor="end" font-weight="normal" transform="rotate(-45 504.40 284.40)" >3000</text>
<text x="341.20" y="229.70" font-size="9.3" text-anchor="middle" font-weight="normal" transform="rotate(-90 341.20 229.70)" >IFNα (pg/ml)</text>
<rect x="479.40" y="182.10" width="9.70" height="4.90" fill="#c1c1c1"/>
<text x="492.50" y="186.90" font-size="7.75" text-anchor="start" font-weight="normal" >CTR</text>
<rect x="479.40" y="193.30" width="9.70" height="4.90" fill="#808080"/>
<text x="492.50" y="198.00" font-size="7.75" text-anchor="start" font-weight="normal" >Pt1</text>
<rect x="479.40" y="204.20" width="9.70" height="4.90" fill="#000"/>
<text x="492.50" y="209.00" font-size="7.75" text-anchor="start" font-weight="normal" >Pt2</text>
<path d="M395.20 182.20 V180.50 H402.20 V182.20" fill="none" stroke="#000" stroke-width="1.2"/>
<circle cx="398.60" cy="178.40" r="1.05" fill="#000"/>
<path d="M395.20 175.90 V174.20 H408.90 V175.90" fill="none" stroke="#000" stroke-width="1.2"/>
<circle cx="401.90" cy="171.70" r="1.05" fill="#000"/>
<path d="M419.30 217.20 V215.50 H426.40 V217.20" fill="none" stroke="#000" stroke-width="1.2"/>
<circle cx="423.10" cy="212.80" r="1.05" fill="#000"/>
<path d="M419.30 210.40 V208.70 H433.60 V210.40" fill="none" stroke="#000" stroke-width="1.2"/>
<circle cx="426.40" cy="206.30" r="1.05" fill="#000"/>
<path d="M418.6 305.6 V310.0 H509.9 V305.6" fill="none" stroke="#000" stroke-width="1.2"/>
<text x="463.60" y="319.60" font-size="8.1" text-anchor="middle" font-weight="normal" >copy number of HSV-1</text>
<rect x="60.50" y="394.70" width="16.40" height="70.80" fill="#c1c1c1"/>
<rect x="82.00" y="393.15" width="16.40" height="72.35" fill="#000"/>
<rect x="119.00" y="404.04" width="16.40" height="61.46" fill="#c1c1c1"/>
<rect x="140.40" y="453.83" width="16.40" height="11.67" fill="#000"/>
<line x1="50.40" y1="384.70" x2="50.40" y2="466.07" stroke="#000" stroke-width="1.15" />
<line x1="47.20" y1="465.50" x2="50.40" y2="465.50" stroke="#000" stroke-width="1.15" />
<text x="43.40" y="468.45" font-size="8.2" text-anchor="end" font-weight="normal" >0</text>
<line x1="47.20" y1="446.05" x2="50.40" y2="446.05" stroke="#000" stroke-width="1.15" />
<text x="43.40" y="449.00" font-size="8.2" text-anchor="end" font-weight="normal" >5</text>
<line x1="47.20" y1="426.60" x2="50.40" y2="426.60" stroke="#000" stroke-width="1.15" />
<text x="43.40" y="429.55" font-size="8.2" text-anchor="end" font-weight="normal" >10</text>
<line x1="47.20" y1="407.15" x2="50.40" y2="407.15" stroke="#000" stroke-width="1.15" />
<text x="43.40" y="410.10" font-size="8.2" text-anchor="end" font-weight="normal" >15</text>
<line x1="47.20" y1="387.70" x2="50.40" y2="387.70" stroke="#000" stroke-width="1.15" />
<text x="43.40" y="390.65" font-size="8.2" text-anchor="end" font-weight="normal" >20</text>
<line x1="166.90" y1="384.70" x2="166.90" y2="466.07" stroke="#000" stroke-width="1.15" />
<line x1="166.90" y1="465.50" x2="170.10" y2="465.50" stroke="#000" stroke-width="1.15" />
<text x="172.80" y="468.45" font-size="8.2" text-anchor="start" font-weight="normal" >0</text>
<line x1="166.90" y1="446.05" x2="170.10" y2="446.05" stroke="#000" stroke-width="1.15" />
<text x="172.80" y="449.00" font-size="8.2" text-anchor="start" font-weight="normal" >1000</text>
<line x1="166.90" y1="426.60" x2="170.10" y2="426.60" stroke="#000" stroke-width="1.15" />
<text x="172.80" y="429.55" font-size="8.2" text-anchor="start" font-weight="normal" >2000</text>
<line x1="166.90" y1="407.15" x2="170.10" y2="407.15" stroke="#000" stroke-width="1.15" />
<text x="172.80" y="410.10" font-size="8.2" text-anchor="start" font-weight="normal" >3000</text>
<line x1="166.90" y1="387.70" x2="170.10" y2="387.70" stroke="#000" stroke-width="1.15" />
<text x="172.80" y="390.65" font-size="8.2" text-anchor="start" font-weight="normal" >4000</text>
<line x1="49.90" y1="465.50" x2="167.40" y2="465.50" stroke="#000" stroke-width="1.0" />
<text x="79.40" y="475.60" font-size="8.2" text-anchor="middle" font-weight="normal" >CTR</text>
<text x="137.90" y="475.60" font-size="8.2" text-anchor="middle" font-weight="normal" >Pt</text>
<text x="27.80" y="465.50" font-size="8.7" text-anchor="start" font-weight="normal" transform="rotate(-90 27.80 465.50)" >% IFNα positive cells</text>
<rect x="21.40" y="375.10" width="8.80" height="3.00" fill="#c1c1c1"/>
<text x="197.50" y="381.40" font-size="8.7" text-anchor="start" font-weight="normal" transform="rotate(90 197.50 381.40)" >MFI IFNα positive cells</text>
<rect x="196.70" y="375.10" width="8.10" height="3.00" fill="#000"/>
<rect x="338.00" y="386.50" width="14.70" height="78.90" fill="#c1c1c1"/>
<rect x="356.70" y="445.77" width="15.30" height="19.63" fill="#000"/>
<line x1="273.40" y1="371.30" x2="273.40" y2="465.97" stroke="#000" stroke-width="1.15" />
<line x1="270.20" y1="465.40" x2="273.40" y2="465.40" stroke="#000" stroke-width="1.15" />
<text x="266.40" y="468.35" font-size="8.2" text-anchor="end" font-weight="normal" >0</text>
<line x1="270.20" y1="447.22" x2="273.40" y2="447.22" stroke="#000" stroke-width="1.15" />
<text x="266.40" y="450.17" font-size="8.2" text-anchor="end" font-weight="normal" >5</text>
<line x1="270.20" y1="429.04" x2="273.40" y2="429.04" stroke="#000" stroke-width="1.15" />
<text x="266.40" y="431.99" font-size="8.2" text-anchor="end" font-weight="normal" >10</text>
<line x1="270.20" y1="410.86" x2="273.40" y2="410.86" stroke="#000" stroke-width="1.15" />
<text x="266.40" y="413.81" font-size="8.2" text-anchor="end" font-weight="normal" >15</text>
<line x1="270.20" y1="392.68" x2="273.40" y2="392.68" stroke="#000" stroke-width="1.15" />
<text x="266.40" y="395.63" font-size="8.2" text-anchor="end" font-weight="normal" >20</text>
<line x1="270.20" y1="374.50" x2="273.40" y2="374.50" stroke="#000" stroke-width="1.15" />
<text x="266.40" y="377.45" font-size="8.2" text-anchor="end" font-weight="normal" >25</text>
<line x1="272.90" y1="465.40" x2="381.20" y2="465.40" stroke="#000" stroke-width="1.0" />
<text x="301.30" y="476.00" font-size="8.2" text-anchor="middle" font-weight="normal" >Unstimulated</text>
<text x="354.10" y="476.00" font-size="8.2" text-anchor="middle" font-weight="normal" >CpG</text>
<text x="251.90" y="419.95" font-size="8.7" text-anchor="middle" font-weight="normal" transform="rotate(-90 251.90 419.95)" >IFNα mRNA/HPRT mRNA</text>
<rect x="281.10" y="378.00" width="9.30" height="3.70" fill="#c1c1c1"/>
<text x="292.40" y="381.60" font-size="7.75" text-anchor="start" font-weight="normal" >CTR</text>
<rect x="281.10" y="389.50" width="9.30" height="3.80" fill="#000"/>
<text x="292.40" y="393.10" font-size="7.75" text-anchor="start" font-weight="normal" >Pt</text>
<rect x="457.40" y="380.51" width="15.70" height="84.89" fill="#bdbdbd"/>
<rect x="473.10" y="407.02" width="15.80" height="58.38" fill="#808080"/>
<rect x="488.90" y="409.45" width="15.70" height="55.95" fill="#000"/>
<line x1="465.20" y1="378.80" x2="465.20" y2="380.51" stroke="#000" stroke-width="1.2" />
<line x1="461.00" y1="378.80" x2="469.40" y2="378.80" stroke="#000" stroke-width="1.2" />
<line x1="481.00" y1="400.10" x2="481.00" y2="407.02" stroke="#000" stroke-width="1.2" />
<line x1="476.55" y1="400.10" x2="485.45" y2="400.10" stroke="#000" stroke-width="1.2" />
<line x1="496.70" y1="403.80" x2="496.70" y2="409.45" stroke="#000" stroke-width="1.2" />
<line x1="492.30" y1="403.80" x2="501.10" y2="403.80" stroke="#000" stroke-width="1.2" />
<line x1="449.50" y1="365.50" x2="449.50" y2="465.97" stroke="#000" stroke-width="1.15" />
<line x1="446.30" y1="465.40" x2="449.50" y2="465.40" stroke="#000" stroke-width="1.15" />
<text x="442.50" y="468.35" font-size="8.2" text-anchor="end" font-weight="normal" >0</text>
<line x1="446.30" y1="441.07" x2="449.50" y2="441.07" stroke="#000" stroke-width="1.15" />
<text x="442.50" y="444.03" font-size="8.2" text-anchor="end" font-weight="normal" >10</text>
<line x1="446.30" y1="416.75" x2="449.50" y2="416.75" stroke="#000" stroke-width="1.15" />
<text x="442.50" y="419.70" font-size="8.2" text-anchor="end" font-weight="normal" >20</text>
<line x1="446.30" y1="392.43" x2="449.50" y2="392.43" stroke="#000" stroke-width="1.15" />
<text x="442.50" y="395.38" font-size="8.2" text-anchor="end" font-weight="normal" >30</text>
<line x1="446.30" y1="368.10" x2="449.50" y2="368.10" stroke="#000" stroke-width="1.15" />
<text x="442.50" y="371.05" font-size="8.2" text-anchor="end" font-weight="normal" >40</text>
<line x1="449.00" y1="465.40" x2="512.30" y2="465.40" stroke="#000" stroke-width="1.1" />
<line x1="465.20" y1="465.40" x2="465.20" y2="468.40" stroke="#000" stroke-width="1.0" />
<text x="468.70" y="475.00" font-size="8.3" text-anchor="end" font-weight="normal" transform="rotate(-45 468.70 475.00)" >CTR</text>
<line x1="481.00" y1="465.40" x2="481.00" y2="468.40" stroke="#000" stroke-width="1.0" />
<text x="484.50" y="475.00" font-size="8.3" text-anchor="end" font-weight="normal" transform="rotate(-45 484.50 475.00)" >Pt 1</text>
<line x1="496.70" y1="465.40" x2="496.70" y2="468.40" stroke="#000" stroke-width="1.0" />
<text x="500.20" y="475.00" font-size="8.3" text-anchor="end" font-weight="normal" transform="rotate(-45 500.20 475.00)" >Pt 2</text>
<text x="427.00" y="418.25" font-size="8.7" text-anchor="middle" font-weight="normal" transform="rotate(-90 427.00 418.25)" >% of effector proliferated CD3+</text>
<path d="M465.40 368.60 V365.80 H497.40 V368.60" fill="none" stroke="#000" stroke-width="1.15"/>
<path d="M465.40 373.80 V370.80 H481.20 V373.80" fill="none" stroke="#000" stroke-width="1.15"/>
<rect x="480.10" y="381.70" width="2.00" height="2.00" fill="#000"/>
<rect x="495.90" y="381.70" width="2.00" height="2.00" fill="#000"/>
<line x1="0.00" y1="0.50" x2="520.00" y2="0.50" stroke="#000" stroke-width="1.0" />
<line x1="0.50" y1="0.00" x2="0.50" y2="495.00" stroke="#000" stroke-width="1.2" />
<line x1="0.00" y1="494.50" x2="520.00" y2="494.50" stroke="#000" stroke-width="1.0" />
<line x1="519.80" y1="0.00" x2="519.80" y2="495.00" stroke="#000" stroke-width="0.8" />
</svg>
</body></html>
